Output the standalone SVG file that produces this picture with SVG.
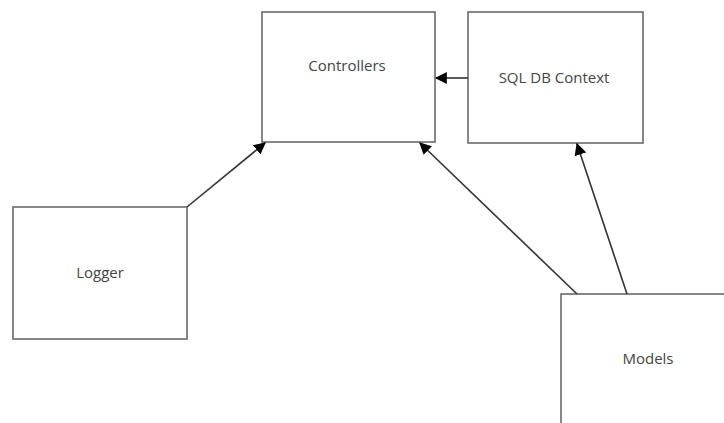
<svg xmlns="http://www.w3.org/2000/svg" width="724" height="423" viewBox="0 0 724 423">
<style>
.box{fill:#fff;stroke:#6a6a6a;stroke-width:1.6}
.lbl{font-family:"Open Sans","Liberation Sans",sans-serif;font-size:15px;fill:#444;text-anchor:middle}
.con{stroke:#333;stroke-width:1.6;fill:none;marker-end:url(#ah)}
</style>
<defs>
<marker id="ah" viewBox="0 0 10 10" refX="9" refY="5" markerWidth="12" markerHeight="12" markerUnits="userSpaceOnUse" orient="auto">
<path d="M0,0 L10,5 L0,10 z" fill="#000"/>
</marker>
</defs>
<rect width="724" height="423" fill="#fff"/>
<g id="controllers"><rect class="box" x="262" y="12" width="173" height="130"/><text class="lbl" x="347" y="71">Controllers</text></g>
<g id="sqldb"><rect class="box" x="468" y="12" width="175" height="131"/><text class="lbl" x="554" y="83">SQL DB Context</text></g>
<g id="logger"><rect class="box" x="13" y="207" width="174" height="132"/><text class="lbl" x="100" y="278">Logger</text></g>
<g id="models"><rect class="box" x="561" y="294" width="170" height="140"/><text class="lbl" x="648" y="364">Models</text></g>
<g id="connectors">
<line class="con" x1="187" y1="207" x2="265" y2="143"/>
<line class="con" x1="468" y1="78" x2="436" y2="78"/>
<line class="con" x1="577" y1="294" x2="420" y2="143"/>
<line class="con" x1="627" y1="294" x2="577" y2="144"/>
</g>
</svg>
